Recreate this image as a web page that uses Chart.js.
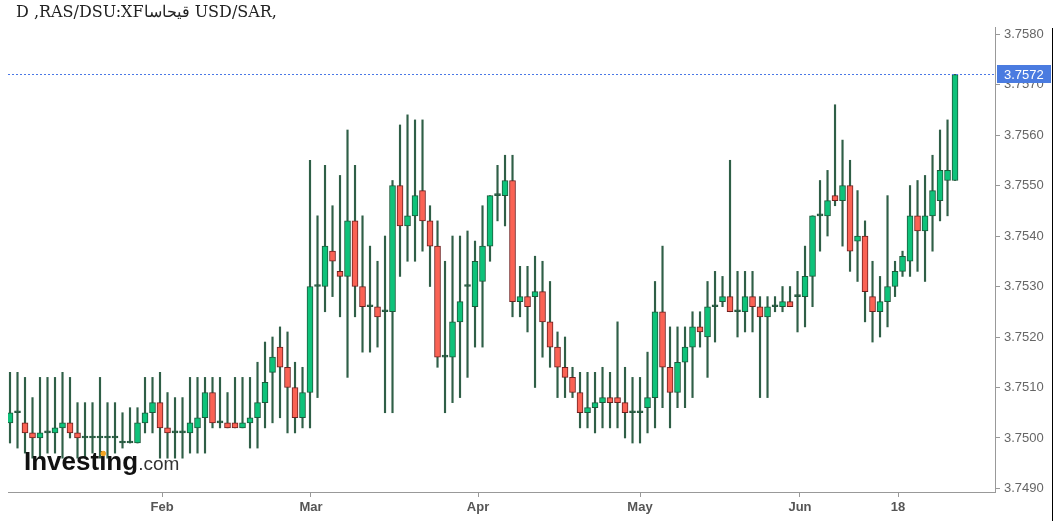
<!DOCTYPE html>
<html lang="en">
<head>
    <meta charset="UTF-8">
    <title>USD/SAR</title>
    <style>
        html, body { margin: 0; padding: 0; background: #fff; }
        #grafico { display: block; }
    </style>
</head>
<body>
    <canvas id="grafico" width="1060" height="521"></canvas>

    <script src="https://cdn.jsdelivr.net/npm/chart.js@4"></script>
    <script>
        // Título (tal como aparece na imagem)
        const titulo = "D ,RAS/DSU:XFقيحاسا USD/SAR,";

        // Candles diários: abertura, máxima, mínima, fechamento
        const abertura = [
            3.7503,3.7505,3.7503,3.7501,3.7500,3.7501,3.7501,3.7502,3.7503,3.7501,
            3.7500,3.7500,3.7500,3.7500,3.7500,3.7499,3.7499,3.7499,3.7503,3.7505,
            3.7507,3.7502,3.7501,3.7501,3.7501,3.7502,3.7504,3.7509,3.7503,3.7503,
            3.7503,3.7502,3.7503,3.7504,3.7507,3.7513,3.7518,3.7514,3.7510,3.7504,
            3.7509,3.7530,3.7530,3.7537,3.7533,3.7532,3.7543,3.7530,3.7526,3.7526,
            3.7525,3.7525,3.7550,3.7542,3.7544,3.7549,3.7543,3.7538,3.7516,3.7516,
            3.7523,3.7530,3.7526,3.7531,3.7538,3.7548,3.7548,3.7551,3.7527,3.7528,
            3.7528,3.7529,3.7523,3.7518,3.7514,3.7512,3.7509,3.7505,3.7506,3.7507,
            3.7508,3.7508,3.7507,3.7505,3.7505,3.7506,3.7508,3.7525,3.7514,3.7509,
            3.7515,3.7518,3.7522,3.7520,3.7526,3.7527,3.7528,3.7525,3.7525,3.7528,
            3.7526,3.7524,3.7526,3.7526,3.7527,3.7528,3.7528,3.7532,3.7544,3.7544,
            3.7548,3.7547,3.7550,3.7539,3.7540,3.7528,3.7525,3.7527,3.7530,3.7533,
            3.7535,3.7544,3.7541,3.7544,3.7547,3.7551,3.7551
        ];
        const maxima = [
            3.7513,3.7513,3.7512,3.7508,3.7512,3.7512,3.7512,3.7513,3.7512,3.7507,
            3.7507,3.7507,3.7512,3.7507,3.7507,3.7505,3.7506,3.7506,3.7512,3.7512,
            3.7513,3.7509,3.7508,3.7508,3.7512,3.7512,3.7512,3.7512,3.7512,3.7509,
            3.7512,3.7512,3.7512,3.7515,3.7519,3.7520,3.7522,3.7521,3.7515,3.7514,
            3.7555,3.7544,3.7554,3.7546,3.7552,3.7561,3.7554,3.7544,3.7538,3.7535,
            3.7540,3.7551,3.7562,3.7564,3.7563,3.7563,3.7546,3.7543,3.7535,3.7540,
            3.7540,3.7541,3.7539,3.7546,3.7548,3.7554,3.7556,3.7556,3.7534,3.7534,
            3.7536,3.7535,3.7531,3.7521,3.7520,3.7514,3.7513,3.7513,3.7513,3.7514,
            3.7513,3.7523,3.7514,3.7512,3.7512,3.7517,3.7531,3.7538,3.7522,3.7522,
            3.7522,3.7525,3.7525,3.7531,3.7533,3.7532,3.7555,3.7533,3.7533,3.7533,
            3.7528,3.7528,3.7528,3.7530,3.7530,3.7533,3.7538,3.7544,3.7551,3.7553,
            3.7566,3.7559,3.7555,3.7549,3.7543,3.7535,3.7532,3.7548,3.7535,3.7537,
            3.7550,3.7551,3.7552,3.7556,3.7561,3.7563,3.7572
        ];
        const minima = [
            3.7499,3.7498,3.7497,3.7496,3.7496,3.7497,3.7497,3.7496,3.7500,3.7496,
            3.7496,3.7497,3.7496,3.7496,3.7497,3.7498,3.7499,3.7499,3.7501,3.7501,
            3.7496,3.7496,3.7496,3.7496,3.7497,3.7497,3.7497,3.7502,3.7502,3.7502,
            3.7502,3.7502,3.7498,3.7498,3.7502,3.7503,3.7504,3.7501,3.7501,3.7502,
            3.7502,3.7508,3.7525,3.7528,3.7524,3.7512,3.7524,3.7517,3.7517,3.7518,
            3.7505,3.7505,3.7532,3.7535,3.7535,3.7537,3.7530,3.7514,3.7505,3.7507,
            3.7508,3.7512,3.7518,3.7518,3.7535,3.7543,3.7542,3.7524,3.7524,3.7521,
            3.7510,3.7516,3.7514,3.7508,3.7508,3.7508,3.7502,3.7502,3.7501,3.7502,
            3.7502,3.7502,3.7500,3.7499,3.7499,3.7501,3.7502,3.7506,3.7502,3.7506,
            3.7506,3.7508,3.7518,3.7512,3.7519,3.7526,3.7525,3.7520,3.7521,3.7521,
            3.7508,3.7508,3.7525,3.7525,3.7526,3.7521,3.7522,3.7526,3.7537,3.7540,
            3.7546,3.7538,3.7533,3.7531,3.7523,3.7519,3.7520,3.7522,3.7528,3.7532,
            3.7532,3.7533,3.7531,3.7537,3.7543,3.7544,3.7551
        ];
        const fechamento = [
            3.7505,3.7505,3.7501,3.7500,3.7501,3.7501,3.7502,3.7503,3.7501,3.7500,
            3.7500,3.7500,3.7500,3.7500,3.7500,3.7499,3.7499,3.7503,3.7505,3.7507,
            3.7502,3.7501,3.7501,3.7501,3.7503,3.7504,3.7509,3.7503,3.7503,3.7502,
            3.7502,3.7503,3.7504,3.7507,3.7511,3.7516,3.7514,3.7510,3.7504,3.7509,
            3.7530,3.7530,3.7538,3.7535,3.7532,3.7543,3.7530,3.7526,3.7526,3.7524,
            3.7525,3.7550,3.7542,3.7544,3.7548,3.7543,3.7538,3.7516,3.7516,3.7523,
            3.7527,3.7530,3.7535,3.7538,3.7548,3.7548,3.7551,3.7527,3.7528,3.7526,
            3.7529,3.7523,3.7518,3.7514,3.7512,3.7509,3.7505,3.7506,3.7507,3.7508,
            3.7507,3.7507,3.7505,3.7505,3.7505,3.7508,3.7525,3.7514,3.7509,3.7515,
            3.7518,3.7522,3.7521,3.7526,3.7526,3.7528,3.7525,3.7525,3.7528,3.7526,
            3.7524,3.7526,3.7526,3.7527,3.7526,3.7528,3.7532,3.7544,3.7544,3.7547,
            3.7547,3.7550,3.7537,3.7540,3.7529,3.7525,3.7527,3.7530,3.7533,3.7536,
            3.7544,3.7541,3.7544,3.7549,3.7553,3.7553,3.7572
        ];

        // Eixos
        const marcasX = [20.27, 40.13, 62.4, 84, 105.33, 118.4];
        const rotulosX = ["Feb", "Mar", "Apr", "May", "Jun", "18"];
        const marcasY = [3.749, 3.750, 3.751, 3.752, 3.753, 3.754, 3.755, 3.756, 3.757, 3.758];

        const ultimo = fechamento[fechamento.length - 1];

        const pavios = abertura.map((_, i) => ({ x: i, y: [minima[i], maxima[i]] }));
        const corpos = abertura.map((_, i) => ({ x: i, y: [abertura[i], fechamento[i]] }));

        function corCorpo(ctx) {
            const i = ctx.dataIndex;
            if (fechamento[i] > abertura[i]) return "#0ec27a";
            if (fechamento[i] < abertura[i]) return "#fa6254";
            return "#24583e";
        }
        function corBorda(ctx) {
            const i = ctx.dataIndex;
            if (fechamento[i] > abertura[i]) return "#1b5a3a";
            if (fechamento[i] < abertura[i]) return "#6e1f1f";
            return "#24583e";
        }

        const fonteSans = '"Liberation Sans", Arial, sans-serif';

        const decoracao = {
            id: "decoracao",
            afterDatasetsDraw(chart) {
                const { ctx, chartArea: a, scales } = chart;
                ctx.save();
                // marca d'água
                ctx.textBaseline = "alphabetic";
                ctx.textAlign = "left";
                ctx.font = "bold 26px " + fonteSans;
                ctx.fillStyle = "#111";
                ctx.fillText("Investing", 24, 470);
                const w = ctx.measureText("Investing").width;
                const xPingo = 24 + ctx.measureText("Invest").width + ctx.measureText("i").width / 2;
                ctx.fillStyle = "#f5a623";
                ctx.beginPath();
                ctx.arc(xPingo + 0.5, 470 - 16.5, 2.7, 0, Math.PI * 2);
                ctx.fill();
                ctx.font = "19px " + fonteSans;
                ctx.fillStyle = "#333";
                ctx.fillText(".com", 24 + w, 470);

                // linha do último preço
                const py = Math.round(scales.y.getPixelForValue(ultimo)) + 0.5;
                ctx.strokeStyle = "#4a78e6";
                ctx.lineWidth = 1;
                ctx.setLineDash([2, 2]);
                ctx.beginPath();
                ctx.moveTo(a.left, py);
                ctx.lineTo(a.right, py);
                ctx.stroke();
                ctx.restore();
            },
            afterDraw(chart) {
                const { ctx, scales } = chart;
                ctx.save();
                // caixa do último preço
                const py = Math.round(scales.y.getPixelForValue(ultimo));
                ctx.fillStyle = "#4a7be0";
                ctx.fillRect(997, py - 9, 54, 18);
                ctx.fillStyle = "#fff";
                ctx.font = "13px " + fonteSans;
                ctx.textBaseline = "middle";
                ctx.textAlign = "left";
                ctx.fillText(ultimo.toFixed(4), 1004, py + 1);

                // borda direita
                ctx.strokeStyle = "#000";
                ctx.lineWidth = 1;
                ctx.beginPath();
                ctx.moveTo(1052.5, 28);
                ctx.lineTo(1052.5, 521);
                ctx.stroke();

                // título
                ctx.font = '16px "DejaVu Serif", serif';
                ctx.fillStyle = "#222";
                ctx.textBaseline = "alphabetic";
                ctx.fillText(titulo, 16, 17);
                ctx.restore();
            }
        };

        new Chart(document.getElementById("grafico"), {
            type: "bar",
            data: {
                datasets: [
                    {
                        label: "Corpo",
                        data: corpos,
                        order: 0,
                        barThickness: 6,
                        minBarLength: 2,
                        borderWidth: 1,
                        borderSkipped: false,
                        backgroundColor: corCorpo,
                        borderColor: corBorda,
                        grouped: false
                    },
                    {
                        label: "Pavio",
                        data: pavios,
                        order: 1,
                        barThickness: 1.5,
                        backgroundColor: "#2f5f47",
                        borderWidth: 0,
                        grouped: false
                    }
                ]
            },
            options: {
                responsive: false,
                animation: false,
                layout: { padding: { left: 8, top: 27, right: 0, bottom: 0 } },
                plugins: {
                    legend: { display: false },
                    tooltip: { enabled: false }
                },
                scales: {
                    x: {
                        type: "linear",
                        offset: false,
                        min: -0.267,
                        max: 131.33,
                        afterBuildTicks: (s) => { s.ticks = marcasX.map(v => ({ value: v })); },
                        afterFit: (s) => { s.height = 29; },
                        ticks: {
                            autoSkip: false,
                            maxRotation: 0,
                            padding: 3,
                            color: "#555",
                            font: { family: fonteSans, size: 13, weight: "bold" },
                            callback: (v, i) => rotulosX[i]
                        },
                        grid: { display: true, offset: false, drawOnChartArea: false, drawTicks: true, tickLength: 5, color: "#999" },
                        border: { display: true, color: "#999", width: 1 }
                    },
                    y: {
                        position: "right",
                        min: 3.74893,
                        max: 3.75814,
                        afterBuildTicks: (s) => { s.ticks = marcasY.map(v => ({ value: v })); },
                        afterFit: (s) => { s.width = 65; },
                        ticks: {
                            padding: 4,
                            color: "#666",
                            font: { family: fonteSans, size: 13 },
                            callback: (v) => Number(v).toFixed(4)
                        },
                        grid: { display: true, drawOnChartArea: false, drawTicks: true, tickLength: 5, color: "#999" },
                        border: { display: true, color: "#999", width: 1 }
                    }
                }
            },
            plugins: [decoracao]
        });
    </script>
</body>
</html>
